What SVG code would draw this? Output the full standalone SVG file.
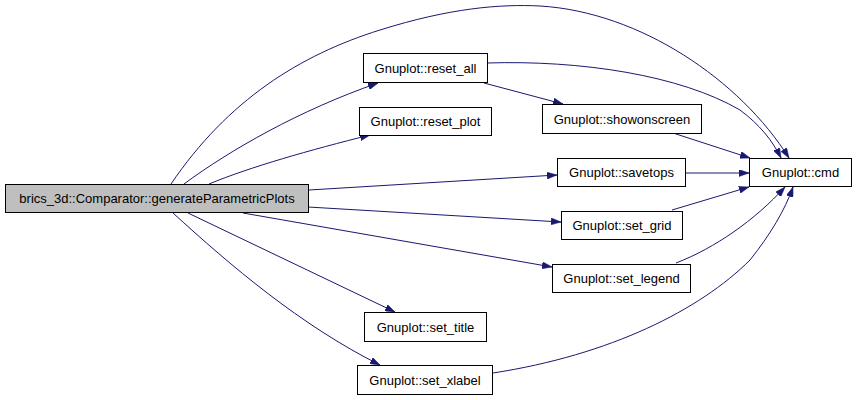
<svg xmlns="http://www.w3.org/2000/svg" width="856" height="400" viewBox="0 0 856 400">
<style>
.node rect{fill:#ffffff;stroke:#000000;stroke-width:1}
.node.main rect{fill:#bfbfbf}
.node text{font-family:"Liberation Sans",Arial,sans-serif;font-size:13px;fill:#000000;text-anchor:middle}
.edge{fill:none;stroke:#191970;stroke-width:1;marker-end:url(#arrow)}
</style>
<defs>
<marker id="arrow" viewBox="0 0 10 7" refX="10" refY="3.5" markerWidth="10" markerHeight="7" markerUnits="userSpaceOnUse" orient="auto">
<path d="M0,0 L10,3.5 L0,7 z" fill="#191970" stroke="#191970" stroke-width="0.5"/>
</marker>
</defs>
<rect width="856" height="400" fill="#ffffff"/>
<g id="connectors">
<path class="edge" d="M171,184 C228,100 300,55 380,30 C450,8 500,4 540,6 C640,12 740,80 789,158"/>
<path class="edge" d="M184,184 C230,150 300,110 378,83"/>
<path class="edge" d="M209,184 C250,167 310,150 370,135"/>
<path class="edge" d="M309,190 L557,175"/>
<path class="edge" d="M308,207 L561,222"/>
<path class="edge" d="M243,213 L552,267"/>
<path class="edge" d="M188,213 L395,312"/>
<path class="edge" d="M173,213 C230,265 300,325 380,365"/>
<path class="edge" d="M484,83 L563,104"/>
<path class="edge" d="M487,63 C580,60 680,75 740,110 C760,125 772,140 781,158"/>
<path class="edge" d="M673,133 L750,158"/>
<path class="edge" d="M685,173 L749,173"/>
<path class="edge" d="M672,210 L749,187"/>
<path class="edge" d="M676,263 C715,248 755,220 785,187"/>
<path class="edge" d="M493,373 C610,355 700,310 750,260 C770,235 785,210 793,187"/>
</g>
<g id="node-main" class="node main"><rect x="5.5" y="184.5" width="303" height="28"/><text x="157" y="203">brics_3d::Comparator::generateParametricPlots</text></g>
<g id="node-reset_all" class="node"><rect x="363.5" y="53.5" width="124" height="29"/><text x="425.5" y="72.5">Gnuplot::reset_all</text></g>
<g id="node-reset_plot" class="node"><rect x="359.5" y="107.5" width="132" height="28"/><text x="425.5" y="126">Gnuplot::reset_plot</text></g>
<g id="node-showonscreen" class="node"><rect x="542.5" y="104.5" width="159" height="29"/><text x="622" y="123.5">Gnuplot::showonscreen</text></g>
<g id="node-savetops" class="node"><rect x="557.5" y="158.5" width="128" height="28"/><text x="621.5" y="177">Gnuplot::savetops</text></g>
<g id="node-cmd" class="node"><rect x="749.5" y="158.5" width="102" height="28"/><text x="800.5" y="177">Gnuplot::cmd</text></g>
<g id="node-set_grid" class="node"><rect x="561.5" y="211.5" width="121" height="28"/><text x="622" y="230">Gnuplot::set_grid</text></g>
<g id="node-set_legend" class="node"><rect x="552.5" y="264.5" width="138" height="28"/><text x="621.5" y="283">Gnuplot::set_legend</text></g>
<g id="node-set_title" class="node"><rect x="364.5" y="312.5" width="122" height="29"/><text x="425.5" y="331.5">Gnuplot::set_title</text></g>
<g id="node-set_xlabel" class="node"><rect x="357.5" y="365.5" width="135" height="29"/><text x="425" y="384.5">Gnuplot::set_xlabel</text></g>
</svg>
